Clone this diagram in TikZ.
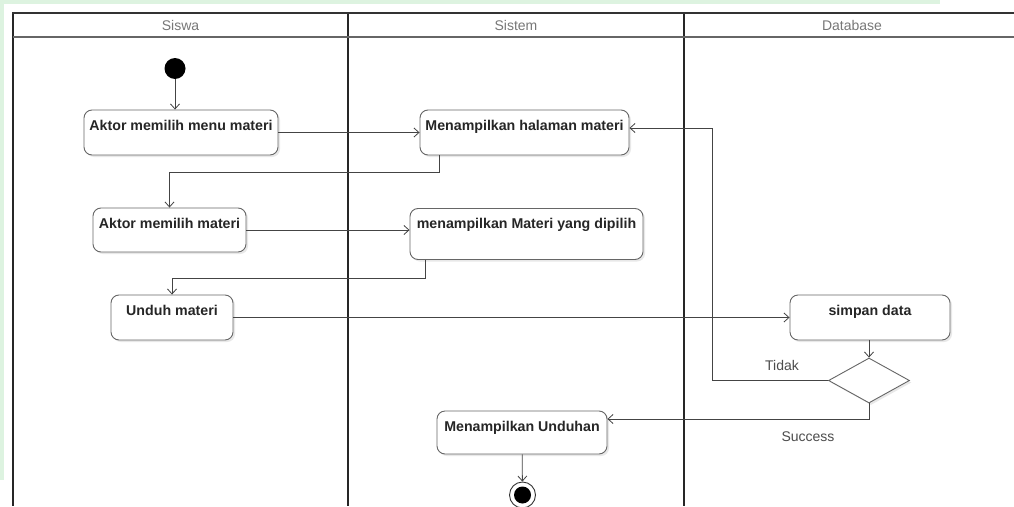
\documentclass[tikz,border=0pt]{standalone}
\usepackage{fontspec}
\setmainfont{Liberation Sans}
\usetikzlibrary{arrows.meta, positioning, calc, shapes.geometric, shadows}
\definecolor{lnc}{HTML}{444444}
\definecolor{bxc}{HTML}{666666}
\definecolor{hdc}{HTML}{777777}
\definecolor{wmc}{HTML}{DDF3E0}

\begin{document}
\begin{tikzpicture}[x=1pt, y=-1pt, >={Straight Barb[length=5pt,width=9pt]},
    font=\fontsize{14}{16}\selectfont,
    activity/.style={draw=bxc, line width=0.9pt, fill=white, rounded corners=8pt,
      font=\fontsize{14.2}{16}\selectfont\bfseries, text=black!85,
      inner xsep=3pt, inner ysep=3pt, text height=17pt, text depth=22pt,
      drop shadow={shadow xshift=2pt, shadow yshift=-2pt, opacity=0.18}},
    flow/.style={->, lnc, line width=0.8pt},
    guard/.style={font=\fontsize{14}{16}\selectfont, text=black!70}]
  \useasboundingbox (0,0) rectangle (1014,506);
  \fill[white] (0,0) rectangle (1014,506);
  % watermark tint
  \fill[wmc] (0,0) rectangle (940,4);
  \fill[wmc] (0,0) rectangle (4,480);
  % swimlanes
  \foreach \name/\xl/\xr in {Siswa/13/348, Sistem/348/684, Database/684/1020}{
    \node[text=hdc] (lane\name) at ({(\xl+\xr)/2},25) {\name};
    \draw[black!85, line width=2.2pt] (\xl,13) -- (\xl,506);
  }
  \draw[black!80, line width=2pt] (12,13) -- (1014,13);
  \draw[black!60, line width=2pt] (13,37) -- (1014,37);
  % activities
  \node[circle, fill=black, minimum size=21pt, inner sep=0pt] (start) at (175,68.5) {};
  \node[activity, minimum width=194pt] (menuSiswa) at (181,132.5) {Aktor memilih menu materi};
  \node[activity, minimum width=209pt] (halSistem) at (524.5,132.5) {Menampilkan halaman materi};
  \node[activity, minimum width=153pt, text depth=21pt] (pilihSiswa) at (169.5,230) {Aktor memilih materi};
  \node[activity, minimum width=233pt, text depth=28pt] (tampilSistem) at (526.5,234) {menampilkan Materi yang dipilih};
  \node[activity, minimum width=122pt] (unduhSiswa) at (172,317.5) {Unduh materi};
  \node[activity, minimum width=160pt] (simpanDb) at (870,317.5) {simpan data};
  \node[diamond, draw=bxc, line width=0.9pt, fill=white, minimum width=81pt,
        minimum height=45pt, inner sep=0pt,
        drop shadow={shadow xshift=2pt, shadow yshift=-2pt, opacity=0.18}] (cekDb) at (869,380.5) {};
  \node[activity, minimum width=170pt, text depth=20pt] (unduhanSistem) at (522,432.5) {Menampilkan Unduhan};
  \node[circle, draw=black!80, line width=0.9pt, minimum size=26pt, inner sep=0pt, fill=white,
        path picture={\fill[black] (path picture bounding box.center) circle (8.5pt);}] (finish) at (522.5,495) {};
  % flows
  \draw[flow] (start) -- (start |- menuSiswa.north);
  \draw[flow] (menuSiswa) -- (halSistem);
  \draw[flow] ($(halSistem.south west)+(20,0)$) -- ++(0,17) -| (pilihSiswa.north);
  \draw[flow] (pilihSiswa.east) -- (pilihSiswa.east -| tampilSistem.west);
  \draw[flow] ($(tampilSistem.south west)+(16,0)$) -- ++(0,18) -| (unduhSiswa.north);
  \draw[flow] (unduhSiswa) -- (simpanDb);
  \draw[flow] (cekDb.north |- simpanDb.south) -- (cekDb.north);
  \draw[flow] (cekDb.west) -- ++(-116,0) |- ($(halSistem.east)+(0,-4.5)$);
  \node[guard] (lblTidak) at (782,365) {Tidak};
  \draw[flow] (cekDb.south) |- ($(unduhanSistem.east)+(0,-13.5)$);
  \node[guard] (lblSukses) at (808,437) {Success};
  \draw[flow] (unduhanSistem) -- (finish);
\end{tikzpicture}
\end{document}
